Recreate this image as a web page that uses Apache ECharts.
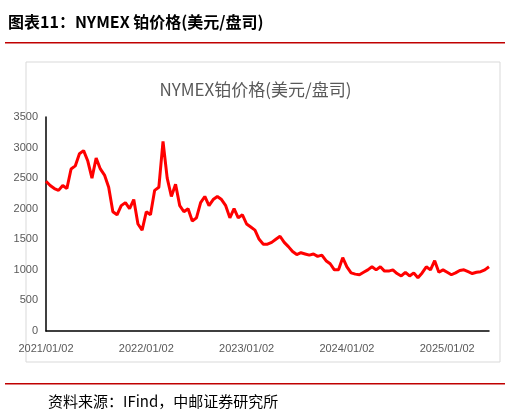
<!DOCTYPE html><html><head><meta charset="utf-8"><script src="https://cdn.jsdelivr.net/npm/echarts@6/dist/echarts.min.js"></script>
<style>body{margin:0}#c{width:511px;height:419px}</style></head><body><div id="c"></div><script>
const values=[2450,2380,2330,2300,2380,2330,2650,2700,2900,2950,2780,2500,2830,2650,2550,2350,1950,1900,2050,2100,2000,2150,1750,1650,
1950,1900,2300,2350,3100,2500,2200,2400,2050,1950,2000,1800,1850,2100,2200,2050,2150,2200,2150,2050,1850,2000,1850,1900,
1750,1700,1650,1500,1420,1420,1450,1500,1550,1450,1380,1300,1250,1280,1260,1240,1260,1220,1240,1150,1100,1000,1000,1200,
1050,950,930,920,960,1000,1050,1000,1050,980,980,1000,940,900,960,900,950,870,950,1050,1000,1150,960,1000,
960,920,950,990,1000,970,940,960,970,1000,1050];
const yearLabels=['2021/01/02','2022/01/02','2023/01/02','2024/01/02','2025/01/02'];
const cats=values.map((v,i)=>String(i));
const chart=echarts.init(document.getElementById('c'));
const F='"Noto Sans CJK SC",sans-serif';
chart.setOption({animation:false,
graphic:[
{type:'text',left:8,top:14,style:{text:'图表11：NYMEX 铂价格(美元/盘司)',font:'bold 16px '+F,fill:'#000'}},
{type:'rect',shape:{x:5,y:42,width:500,height:1.5},style:{fill:'#c00000'}},
{type:'rect',shape:{x:26,y:62,width:474,height:300},style:{fill:'none',stroke:'#d9d9d9',lineWidth:1}},
{type:'rect',shape:{x:5,y:383,width:500,height:1.5},style:{fill:'#c00000'}},
{type:'text',left:48,top:394,style:{text:'资料来源：IFind，中邮证券研究所',font:'15px '+F,fill:'#000'}}
],
title:{text:'NYMEX铂价格(美元/盘司)',left:'center',top:76,textStyle:{fontSize:17,fontWeight:'normal',color:'#595959',fontFamily:F}},
grid:{left:46,right:22,top:117,bottom:88},
xAxis:{type:'category',data:cats,boundaryGap:false,axisLine:{lineStyle:{color:'#000',width:1.5}},axisTick:{show:false},
axisLabel:{interval:(i)=>i%24===0,formatter:(v,i)=>yearLabels[i/24]||'',color:'#595959',fontSize:11,margin:12}},
yAxis:{type:'value',min:0,max:3500,interval:500,splitLine:{show:false},axisLine:{show:true,lineStyle:{color:'#000',width:1.5}},axisLabel:{color:'#595959',fontSize:11,formatter:(v)=>String(v)}},
series:[{type:'line',data:values,showSymbol:false,lineStyle:{color:'#ff0000',width:3}}]});
</script></body></html>
